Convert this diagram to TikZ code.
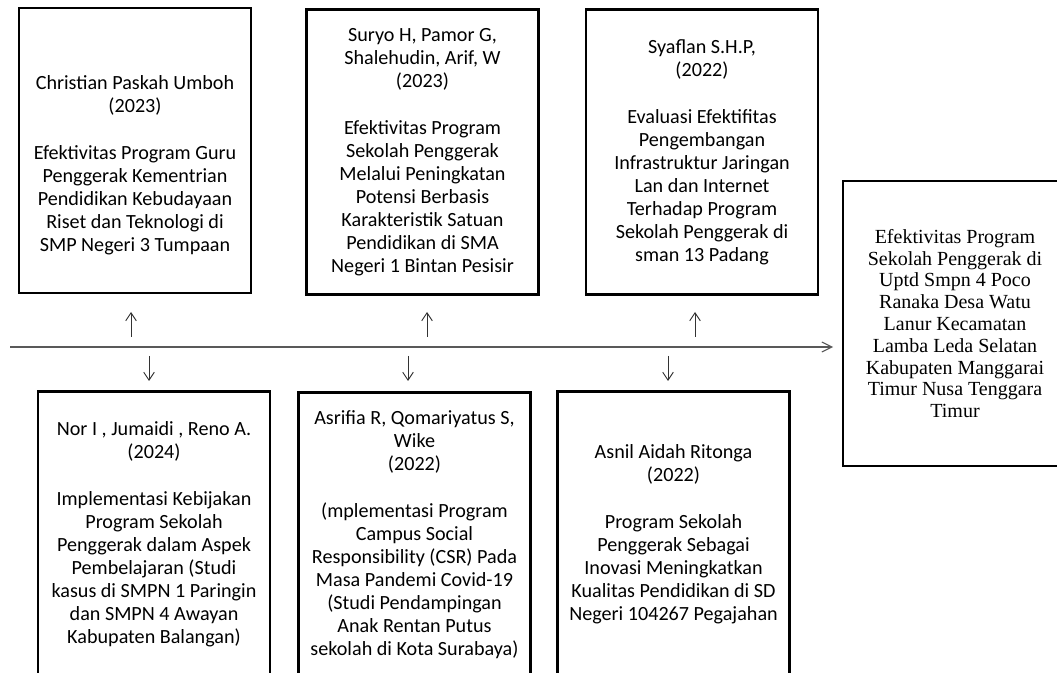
\documentclass[tikz,border=0pt]{standalone}
\usepackage{fontspec}
\setmainfont{Carlito}
\newfontfamily\timesfont{Liberation Serif}
\usetikzlibrary{arrows.meta}

\begin{document}
\begin{tikzpicture}[x=0.75pt, y=-0.75pt,
            study/.style={draw, line width=1.8pt, minimum width=174pt, minimum height=213.75pt,
                inner sep=0pt, align=center, font=\fontsize{15.1}{17.25}\selectfont},
            goal/.style={study, minimum width=168pt, font=\timesfont\fontsize{15}{16.35}\selectfont},
            timeline/.style={draw=black!65, line width=0.8pt, -{Straight Barb[length=7.5pt,width=7.5pt]}},
            tick/.style={draw=black!80, line width=0.7pt, -{Straight Barb[length=6pt,width=8pt]}}]
            \useasboundingbox (0,0) rectangle (1057,673);
            % previous studies above the line
            \node[study] (umboh) at (135,150.5) {\mbox{}\\[15pt]Christian Paskah Umboh\\(2023)\\[18pt]Efektivitas Program Guru\\Penggerak Kementrian\\Pendidikan Kebudayaan\\Riset dan Teknologi di\\SMP Negeri 3 Tumpaan};
            \node[study] (suryo) at (422.5,152) {Suryo H, Pamor G,\\Shalehudin, Arif, W\\(2023)\\[18pt]Efektivitas Program\\Sekolah Penggerak\\Melalui Peningkatan\\Potensi Berbasis\\Karakteristik Satuan\\Pendidikan di SMA\\Negeri 1 Bintan Pesisir};
            \node[study] (syaflan) at (702,152) {Syaflan S.H.P,\\(2022)\\[18pt]Evaluasi Efektifitas\\Pengembangan\\Infrastruktur Jaringan\\Lan dan Internet\\Terhadap Program\\Sekolah Penggerak di\\sman 13 Padang};
            % previous studies below the line
            \node[study] (nor) at (154,534) {Nor I , Jumaidi , Reno A.\\(2024)\\[18pt]Implementasi Kebijakan\\Program Sekolah\\Penggerak dalam Aspek\\Pembelajaran (Studi\\kasus di SMPN 1 Paringin\\dan SMPN 4 Awayan\\Kabupaten Balangan)};
            \node[study] (asrifia) at (414.5,535) {Asrifia R, Qomariyatus S,\\Wike\\(2022)\\[18pt](mplementasi Program\\Campus Social\\Responsibility (CSR) Pada\\Masa Pandemi Covid-19\\(Studi Pendampingan\\Anak Rentan Putus\\sekolah di Kota Surabaya)};
            \node[study] (asnil) at (673.5,534) {Asnil Aidah Ritonga\\(2022)\\[18pt]Program Sekolah\\Penggerak Sebagai\\Inovasi Meningkatkan\\Kualitas Pendidikan di SD\\Negeri 104267 Pegajahan};
            % this study
            \node[goal] (poco) at (955,323.5) {Efektivitas Program\\Sekolah Penggerak di\\Uptd Smpn 4 Poco\\Ranaka Desa Watu\\Lanur Kecamatan\\Lamba Leda Selatan\\Kabupaten Manggarai\\Timur Nusa Tenggara\\Timur};
            % time line
            \coordinate (start) at (10,347);
            \coordinate (end) at (833,347);
            \draw[timeline] (start) -- (end);
            \coordinate (up1) at (131,337);
            \coordinate (up2) at (427,337);
            \coordinate (up3) at (695,337);
            \coordinate (dn1) at (149,356);
            \coordinate (dn2) at (408,356);
            \coordinate (dn3) at (668,356);
            \draw[tick] (up1) -- ++(0,-25);
            \draw[tick] (up2) -- ++(0,-25);
            \draw[tick] (up3) -- ++(0,-25);
            \draw[tick] (dn1) -- ++(0,25);
            \draw[tick] (dn2) -- ++(0,25);
            \draw[tick] (dn3) -- ++(0,25);
        \end{tikzpicture}
\end{document}
